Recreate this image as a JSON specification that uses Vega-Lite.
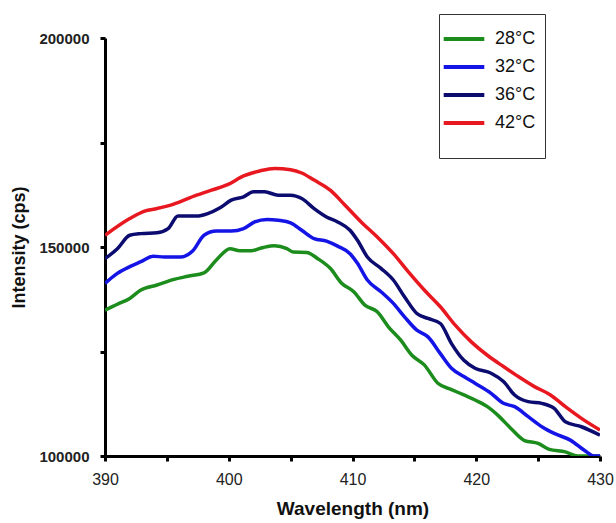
{
  "$schema": "https://vega.github.io/schema/vega-lite/v6.json",
  "width": 495,
  "height": 418,
  "autosize": "none",
  "padding": {"left": 105, "top": 38, "right": 16, "bottom": 67},
  "background": "white",
  "config": {"view": {"stroke": null}, "font": "Liberation Sans"},
  "datasets": {
    "r": [
      [390,152800],[392,156800],[393.2,158600],[394.2,159200],[395.5,160200],[397.4,162400],[398.6,163600],[399.9,164900],[401.2,167000],[402.5,168200],[403.7,168800],[405,168500],[405.9,167700],[406.9,166000],[408.2,163600],[409.4,160000],[410.7,156000],[412,152400],[413.3,148400],[414.5,144100],[415.8,139700],[417.1,135700],[418.3,131300],[419.6,127300],[420.9,124100],[422.2,121400],[423.4,119000],[424.7,116600],[426,114600],[427.2,111800],[428.5,109000],[430,106200]
    ],
    "n": [
      [390,147200],[391,149600],[392,152800],[392.9,153200],[394.2,153400],[395.1,154400],[395.9,157400],[397.4,157400],[398.3,158000],[399.3,159400],[400.2,161200],[401.2,162000],[402,163200],[402.9,163200],[404,162400],[405,162400],[405.9,161600],[406.9,159200],[407.9,157200],[408.8,156000],[409.8,154000],[410.4,151600],[411.2,147600],[412.3,144900],[413.3,142100],[414.2,138100],[415.2,134100],[416.1,132900],[417.1,131700],[418,126900],[419,122900],[419.9,121000],[421.2,119800],[422.2,117800],[423.1,114600],[424.2,113000],[425.3,112600],[426.3,111400],[427.2,108200],[428.5,107000],[430,105000]
    ],
    "b": [
      [390,141300],[391,143700],[392,145300],[392.9,146500],[393.9,147800],[394.8,147600],[396.1,147600],[397.1,149100],[398,152800],[399,153800],[400.2,153800],[401.2,154400],[402.1,156000],[403.1,156600],[404,156400],[405,155800],[405.9,154000],[406.9,152000],[407.9,151400],[408.8,150200],[409.8,148400],[410.4,146100],[411.2,142100],[412.3,139300],[413.3,136500],[414.2,133300],[415.2,130100],[416.1,128500],[417.1,124500],[418,121000],[419,119000],[419.9,117400],[421.2,115000],[422.2,112600],[423.1,111800],[424.2,109400],[425.3,107000],[426.3,105400],[427.6,103800],[428.9,101000],[429.5,100000],[430,100000]
    ],
    "g": [
      [390,134900],[391,136300],[392,137700],[392.9,139700],[394.2,140900],[395.5,142200],[396.7,143000],[398,143800],[399,146900],[400.1,149600],[400.9,149100],[401.8,149100],[402.8,149900],[403.7,150300],[404.7,149600],[405.2,148800],[406.3,148700],[407.2,147200],[408.2,144900],[409.1,141400],[410.1,139300],[411,136100],[412,134500],[412.9,130900],[413.9,127700],[414.8,124100],[415.8,121800],[416.9,117400],[418,115900],[419,114600],[419.9,113400],[420.9,111800],[421.8,109600],[422.8,106600],[423.9,103700],[425,103000],[425.9,101600],[427.2,101000],[428.2,100000],[430,100000]
    ]
  },
  "layer": [
    {"data": {"name": "g"}, "transform": [{"calculate": "datum[0]", "as": "w"}, {"calculate": "datum[1]", "as": "i"}, {"calculate": "'28°C'", "as": "t"}],
     "mark": {"type": "line", "strokeWidth": 3.5, "clip": true, "interpolate": "monotone"},
     "encoding": {
       "x": {"field": "w", "type": "quantitative"},
       "y": {"field": "i", "type": "quantitative"},
       "color": {"field": "t", "type": "nominal"}}},
    {"data": {"name": "b"}, "transform": [{"calculate": "datum[0]", "as": "w"}, {"calculate": "datum[1]", "as": "i"}, {"calculate": "'32°C'", "as": "t"}],
     "mark": {"type": "line", "strokeWidth": 3.5, "clip": true, "interpolate": "monotone"},
     "encoding": {
       "x": {"field": "w", "type": "quantitative"},
       "y": {"field": "i", "type": "quantitative"},
       "color": {"field": "t", "type": "nominal"}}},
    {"data": {"name": "n"}, "transform": [{"calculate": "datum[0]", "as": "w"}, {"calculate": "datum[1]", "as": "i"}, {"calculate": "'36°C'", "as": "t"}],
     "mark": {"type": "line", "strokeWidth": 3.5, "clip": true, "interpolate": "monotone"},
     "encoding": {
       "x": {"field": "w", "type": "quantitative"},
       "y": {"field": "i", "type": "quantitative"},
       "color": {"field": "t", "type": "nominal"}}},
    {"data": {"name": "r"}, "transform": [{"calculate": "datum[0]", "as": "w"}, {"calculate": "datum[1]", "as": "i"}, {"calculate": "'42°C'", "as": "t"}],
     "mark": {"type": "line", "strokeWidth": 3.5, "clip": true, "interpolate": "monotone"},
     "encoding": {
       "x": {"field": "w", "type": "quantitative", "scale": {"domain": [390, 430], "nice": false, "zero": false},
             "axis": {"title": "Wavelength (nm)", "values": [390, 395, 400, 405, 410, 415, 420, 425, 430],
                      "labelExpr": "datum.value % 10 === 0 ? datum.label : ''", "format": "d",
                      "grid": false, "domainColor": "black", "domainWidth": 3, "tickColor": "black", "tickWidth": 3,
                      "tickSize": 5, "ticks": true,
                      "labelFontSize": 16, "labelColor": "#222", "labelPadding": 10, "labelFlush": false,
                      "titleFontSize": 19, "titleFontWeight": "bold", "titleColor": "#111", "titlePadding": 12}},
       "y": {"field": "i", "type": "quantitative", "scale": {"domain": [100000, 200000], "nice": false, "zero": false},
             "axis": {"title": "Intensity (cps)", "values": [100000, 125000, 150000, 175000, 200000],
                      "labelExpr": "datum.value % 50000 === 0 ? datum.label : ''", "format": "d",
                      "grid": false, "domainColor": "black", "domainWidth": 3, "tickColor": "black", "tickWidth": 3,
                      "tickSize": 5, "ticks": true,
                      "labelFontSize": 15, "labelFontWeight": "bold", "labelColor": "#222", "labelPadding": 11,
                      "titleFontSize": 18, "titleFontWeight": "bold", "titleColor": "#111", "titlePadding": 10}},
       "color": {"field": "t", "type": "nominal",
                 "scale": {"domain": ["28°C", "32°C", "36°C", "42°C"], "range": ["#1c8c1c", "#1414e6", "#0c0c70", "#e81820"]},
                 "legend": {"title": "\u00a0", "titleOrient": "bottom", "titleFontSize": 13, "titlePadding": 4,
                            "orient": "none", "legendX": 334, "legendY": -24,
                            "symbolType": "M-1.45,0H1.45", "symbolStrokeWidth": 4, "symbolSize": 784,
                            "labelFontSize": 18, "labelColor": "#111", "labelOffset": 15,
                            "rowPadding": 3, "padding": 9, "strokeColor": "#333", "fillColor": "white"}}}}
  ]
}
